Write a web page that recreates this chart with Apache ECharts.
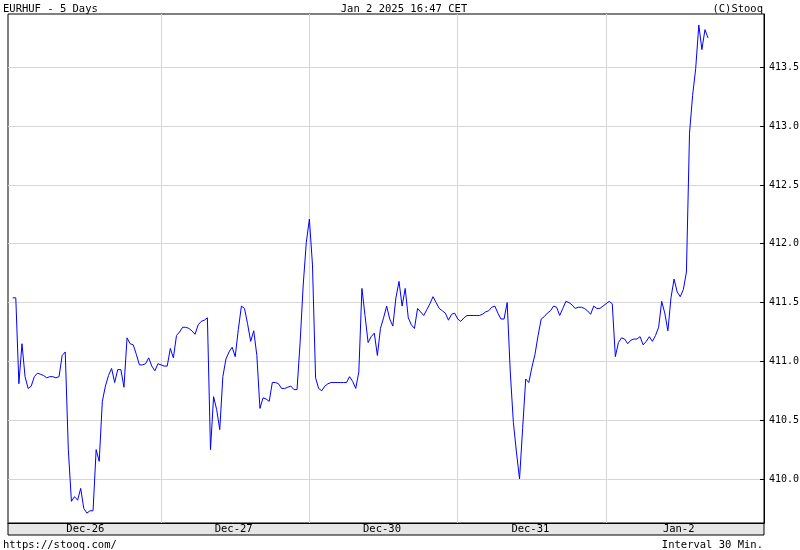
<!DOCTYPE html>
<html>
<head>
<meta charset="utf-8">
<script src="https://cdn.jsdelivr.net/npm/echarts@6/dist/echarts.min.js"></script>
<style>html,body{margin:0;padding:0;background:#fff}#c{width:800px;height:550px}</style>
</head>
<body>
<div id="c"></div>
<script>
// 30-minute EURHUF closes, one array per trading day (slot 0 = 00:00)
const dec26 = [411.54,411.54,410.81,411.15,410.87,410.77,410.79,410.87,410.90,410.89,410.88,410.86,
  410.87,410.87,410.86,410.87,411.05,411.08,410.25,409.81,409.85,409.82,409.92,409.75,
  409.71,409.73,409.73,410.25,410.15,410.66,410.79,410.88,410.94,410.82,410.93,410.93,
  410.78,411.20,411.15,411.14,411.06,410.97,410.97,410.98,411.03,410.96,410.92,410.98];
const dec27 = [410.97,410.96,410.96,411.11,411.03,411.22,411.25,411.29,411.29,411.28,411.26,411.23,
  411.31,411.34,411.35,411.37,410.25,410.70,410.59,410.42,410.87,411.02,411.08,411.12,
  411.04,411.27,411.47,411.45,411.32,411.17,411.26,411.05,410.60,410.69,410.68,410.66,
  410.82,410.82,410.81,410.77,410.77,410.78,410.79,410.76,410.76,411.16,411.65,412.01];
const dec30 = [412.21,411.82,410.86,410.77,410.75,410.79,410.81,410.82,410.82,410.82,410.82,410.82,
  410.82,410.87,410.83,410.77,410.91,411.62,411.39,411.16,411.21,411.24,411.05,411.28,
  411.37,411.47,411.36,411.30,411.54,411.68,411.47,411.62,411.37,411.31,411.28,411.45,
  411.42,411.39,411.44,411.49,411.55,411.50,411.45,411.43,411.41,411.35,411.40,411.41];
const dec31 = [411.36,411.34,411.37,411.39,411.39,411.39,411.39,411.39,411.40,411.42,411.43,411.46,
  411.47,411.41,411.36,411.36,411.50,410.91,410.48,410.23,410.00,410.43,410.85,410.82,
  410.95,411.06,411.22,411.36,411.38,411.41,411.43,411.47,411.46,411.39,411.45,411.51,
  411.50,411.48,411.45,411.46,411.46,411.45,411.43,411.40,411.47,411.45,411.45,411.47];
const jan2 = [411.49,411.51,411.49,411.04,411.16,411.20,411.19,411.15,411.18,411.19,411.19,411.21,
  411.14,411.17,411.21,411.17,411.22,411.29,411.51,411.41,411.26,411.54,411.70,411.59,
  411.55,411.61,411.76,412.94,413.26,413.49,413.86,413.65,413.82,413.75];

const days = [dec26, dec27, dec30, dec31, jan2];
const dayLabels = ['Dec-26', 'Dec-27', 'Dec-30', 'Dec-31', 'Jan-2'];
const yTicks = [410.0, 410.5, 411.0, 411.5, 412.0, 412.5, 413.0, 413.5];
const slotsPerDay = 48;

const seriesData = [];
days.forEach((d, k) => d.forEach((v, j) => seriesData.push([k * slotsPerDay + j, v])));
const dayBounds = dayLabels.slice(1).map((_, k) => (k + 1) * slotsPerDay);
const labelPos = dayLabels.map((_, k) => k * slotsPerDay + 23.5);

const font = 'DejaVu Sans Mono';
const tStyle = {fontFamily: font, fontSize: 10.5, fontWeight: 'normal', color: '#000'};
const chart = echarts.init(document.getElementById('c'), null, {renderer: 'canvas'});
chart.setOption({
  animation: false,
  backgroundColor: '#fff',
  textStyle: {fontFamily: font},
  title: [
    {text: 'EURHUF - 5 Days', left: 3, top: 4, padding: 0, textStyle: tStyle},
    {text: 'Jan 2 2025 16:47 CET', left: 404, top: 4, padding: 0, textAlign: 'center', textStyle: tStyle},
    {text: '(C)Stooq', right: 37, top: 4, padding: 0, textStyle: tStyle},
    {text: 'https://stooq.com/', left: 3, top: 540, padding: 0, textStyle: tStyle},
    {text: 'Interval 30 Min.', right: 37, top: 540, padding: 0, textStyle: tStyle}
  ],
  graphic: [{
    type: 'rect', z: -10, silent: true,
    shape: {x: 8, y: 523, width: 756, height: 12},
    style: {fill: '#e6e6e6', stroke: '#000', lineWidth: 1}
  }],
  grid: {left: 8, right: 36, top: 14, bottom: 27, outerBoundsMode: 'none', containLabel: false,
    show: true, backgroundColor: '#fff', borderColor: '#000', borderWidth: 1},
  xAxis: {
    type: 'value', min: -1.52, max: 243.1,
    axisLine: {show: true, onZero: false, lineStyle: {color: '#000'}},
    axisTick: {show: false, customValues: dayBounds},
    splitLine: {show: true, lineStyle: {color: '#d6d6d6', width: 1}},
    axisLabel: {
      customValues: labelPos, margin: 1, color: '#000', fontFamily: font, fontSize: 10.5,
      formatter: v => dayLabels[Math.round((v - 23.5) / slotsPerDay)]
    }
  },
  yAxis: {
    type: 'value', position: 'right', min: 409.626, max: 413.953, scale: true,
    axisLine: {show: true, onZero: false, lineStyle: {color: '#000'}},
    axisTick: {show: true, inside: true, length: 4, customValues: yTicks, lineStyle: {color: '#000'}},
    splitLine: {show: true, lineStyle: {color: '#d6d6d6', width: 1}},
    axisLabel: {customValues: yTicks, margin: 5, color: '#000', fontFamily: font, fontSize: 10, formatter: v => v.toFixed(1)}
  },
  series: [{
    type: 'line', data: seriesData, showSymbol: false, symbol: 'none',
    lineStyle: {color: '#0000ff', width: 1}, z: 5
  }]
});
</script>
</body>
</html>
